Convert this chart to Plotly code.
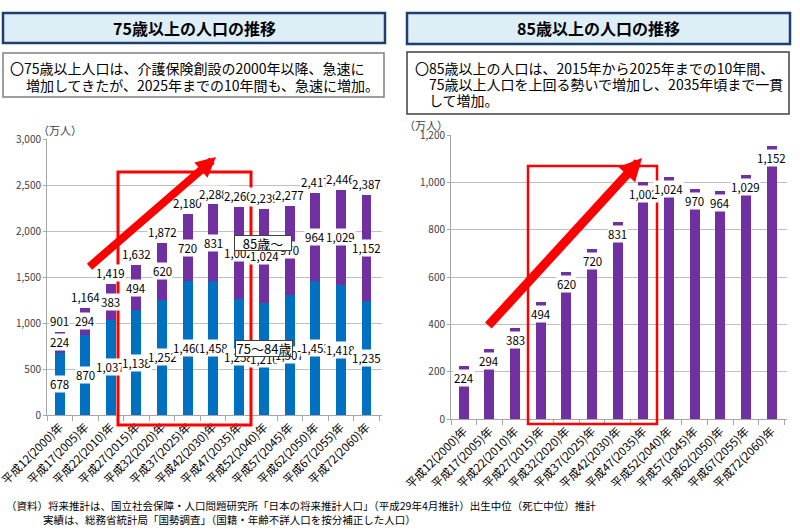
import plotly.graph_objects as go

categories = ["平成12(2000)年", "平成17(2005)年", "平成22(2010)年", "平成27(2015)年",
              "平成32(2020)年", "平成37(2025)年", "平成42(2030)年", "平成47(2035)年",
              "平成52(2040)年", "平成57(2045)年", "平成62(2050)年", "平成67(2055)年",
              "平成72(2060)年"]
age_75_84 = [678, 870, 1037, 1138, 1252, 1460, 1458, 1258, 1216, 1307, 1453, 1418, 1235]
age_85_plus = [224, 294, 383, 494, 620, 720, 831, 1002, 1024, 970, 964, 1029, 1152]
total_75_plus = [901, 1164, 1419, 1632, 1872, 2180, 2288, 2260, 2239, 2277, 2417, 2446, 2387]
left_ticks = [0, 500, 1000, 1500, 2000, 2500, 3000]
right_ticks = [0, 200, 400, 600, 800, 1000, 1200]

BLUE = "#0070C0"
PURPLE = "#7030A0"
FONT = "Noto Sans CJK JP"
W, H = 800, 530


def px(x):
    return x / W


def py(y):
    return 1 - y / H


fig = go.Figure()
fig.add_bar(x=categories, y=age_75_84, marker=dict(color=BLUE, line=dict(width=0)),
            xaxis="x", yaxis="y", name="75〜84歳", showlegend=False, hoverinfo="skip")
fig.add_bar(x=categories, y=age_85_plus, marker=dict(color=PURPLE, line=dict(width=0)),
            xaxis="x", yaxis="y", name="85歳〜", showlegend=False, hoverinfo="skip")
fig.add_bar(x=categories, y=age_85_plus, marker=dict(color=PURPLE, line=dict(width=0)),
            xaxis="x2", yaxis="y2", name="85歳〜", showlegend=False, hoverinfo="skip")

annotations = []
lab_font = dict(family=FONT, size=11.5, color="#000000")

# left chart segment labels and totals
for i, c in enumerate(categories):
    a, b = age_75_84[i], age_85_plus[i]
    annotations.append(dict(x=c, y=a / 2, xref="x", yref="y", text=f"{a:,}", showarrow=False,
                            bgcolor="white", borderpad=0, font=lab_font,
                            xanchor="center", yanchor="middle"))
    annotations.append(dict(x=c, y=a + b / 2, xref="x", yref="y", text=f"{b:,}", showarrow=False,
                            bgcolor="white", borderpad=0, font=lab_font,
                            xanchor="center", yanchor="middle"))
for i, c in enumerate(categories):
    t = total_75_plus[i]
    annotations.append(dict(x=c, y=t, xref="x", yref="y", text=f"{t:,}", showarrow=False,
                            bgcolor="white", borderpad=0, font=lab_font,
                            xanchor="center", yanchor="bottom", yshift=2))

# right chart labels (inside end)
for i, c in enumerate(categories):
    b = age_85_plus[i]
    annotations.append(dict(x=c, y=b, xref="x2", yref="y2", text=f"{b:,}", showarrow=False,
                            bgcolor="white", borderpad=0, font=lab_font,
                            xanchor="center", yanchor="top", yshift=-3))

# unit labels
annotations.append(dict(x=px(36), y=py(130), xref="paper", yref="paper", text="（万人）",
                        showarrow=False, xanchor="left", yanchor="middle",
                        font=dict(family=FONT, size=11, color="#404040")))
annotations.append(dict(x=px(402), y=py(125), xref="paper", yref="paper", text="（万人）",
                        showarrow=False, xanchor="left", yanchor="middle",
                        font=dict(family=FONT, size=11, color="#404040")))

# titles
annotations.append(dict(x=px(194), y=py(28), xref="paper", yref="paper",
                        text="<b>75歳以上の人口の推移</b>", showarrow=False,
                        xanchor="center", yanchor="middle",
                        font=dict(family=FONT, size=16, color="#000000")))
annotations.append(dict(x=px(598), y=py(28), xref="paper", yref="paper",
                        text="<b>85歳以上の人口の推移</b>", showarrow=False,
                        xanchor="center", yanchor="middle",
                        font=dict(family=FONT, size=16, color="#000000")))

desc_font = dict(family=FONT, size=14, color="#000000")
for (x, y, t) in [(8, 68, "〇75歳以上人口は、介護保険創設の2000年以降、急速に"),
                  (24, 85, "増加してきたが、2025年までの10年間も、急速に増加。"),
                  (413, 68, "〇85歳以上の人口は、2015年から2025年までの10年間、"),
                  (427, 84, "75歳以上人口を上回る勢いで増加し、2035年頃まで一貫"),
                  (427, 100, "して増加。")]:
    annotations.append(dict(x=px(x), y=py(y), xref="paper", yref="paper", text=t,
                            showarrow=False, xanchor="left", yanchor="middle", font=desc_font))

foot_font = dict(family=FONT, size=10.5, color="#000000")
annotations.append(dict(x=px(4), y=py(505), xref="paper", yref="paper",
                        text="（資料）将来推計は、国立社会保障・人口問題研究所「日本の将来推計人口」（平成29年4月推計）出生中位（死亡中位）推計",
                        showarrow=False, xanchor="left", yanchor="middle", font=foot_font))
annotations.append(dict(x=px(41), y=py(519), xref="paper", yref="paper",
                        text="実績は、総務省統計局「国勢調査」（国籍・年齢不詳人口を按分補正した人口）",
                        showarrow=False, xanchor="left", yanchor="middle", font=foot_font))

# arrows
annotations.append(dict(x=px(216), y=py(157), xref="paper", yref="paper", text="",
                        showarrow=True, ax=88 - 216, ay=268 - 157, arrowcolor="#FF0000",
                        arrowwidth=8, arrowhead=2, arrowsize=0.5))
annotations.append(dict(x=px(642), y=py(158), xref="paper", yref="paper", text="",
                        showarrow=True, ax=487 - 642, ay=327 - 158, arrowcolor="#FF0000",
                        arrowwidth=9, arrowhead=2, arrowsize=0.5))

# legend-like boxes
box_font = dict(family=FONT, size=13, color="#000000")
annotations.append(dict(x=px(263), y=py(243), xref="paper", yref="paper", text="85歳～",
                        showarrow=False, bgcolor="white", bordercolor="#404040", borderwidth=1,
                        borderpad=0, font=box_font, width=56, height=14,
                        xanchor="center", yanchor="middle"))
annotations.append(dict(x=px(264), y=py(348), xref="paper", yref="paper", text="75〜84歳",
                        showarrow=False, bgcolor="white", bordercolor="#404040", borderwidth=1,
                        borderpad=0, font=box_font, width=56, height=15,
                        xanchor="center", yanchor="middle"))

shapes = [
    # title boxes
    dict(type="rect", xref="paper", yref="paper", x0=px(3), x1=px(385), y0=py(13), y1=py(43),
         fillcolor="#DEEEF7", line=dict(color="#1F3F6E", width=2.5), layer="below"),
    dict(type="rect", xref="paper", yref="paper", x0=px(407), x1=px(790), y0=py(13), y1=py(44),
         fillcolor="#DEEEF7", line=dict(color="#1F3F6E", width=2.5), layer="below"),
    # description boxes
    dict(type="rect", xref="paper", yref="paper", x0=px(3), x1=px(384), y0=py(53), y1=py(97),
         fillcolor="white", line=dict(color="#7F7F7F", width=1.5), layer="below"),
    dict(type="rect", xref="paper", yref="paper", x0=px(407), x1=px(789), y0=py(52), y1=py(114),
         fillcolor="white", line=dict(color="#404040", width=1.5), layer="below"),
    # red highlight rectangles
    dict(type="rect", xref="paper", yref="paper", x0=px(118), x1=px(251), y0=py(172), y1=py(425),
         line=dict(color="#FF0000", width=3), layer="above"),
    dict(type="rect", xref="paper", yref="paper", x0=px(528), x1=px(657), y0=py(166), y1=py(424),
         line=dict(color="#FF0000", width=2.5), layer="above"),
]

axis_common = dict(type="category", tickangle=-45, ticks="outside", tickson="boundaries",
                   ticklen=5, tickcolor="#A6A6A6", showline=True, linecolor="#A6A6A6",
                   linewidth=1, showgrid=False,
                   tickfont=dict(family=FONT, size=11.5, color="#000000"))
yaxis_common = dict(showline=True, linecolor="#A6A6A6", linewidth=1, gridcolor="#BFBFBF",
                    gridwidth=1, zeroline=False, tickformat=",", ticks="outside", ticklen=3,
                    tickcolor="#A6A6A6",
                    tickfont=dict(family=FONT, size=10, color="#404040"))

fig.update_layout(
    width=W, height=H,
    margin=dict(l=0, r=0, t=0, b=0, autoexpand=False),
    paper_bgcolor="white", plot_bgcolor="white",
    barmode="stack", bargap=0.61,
    showlegend=False,
    xaxis=dict(domain=[px(47), px(382)], anchor="y", **axis_common),
    yaxis=dict(domain=[py(415), py(139)], anchor="x", range=[0, 3000],
               tickvals=left_ticks, **yaxis_common),
    xaxis2=dict(domain=[px(451), px(787)], anchor="y2", **axis_common),
    yaxis2=dict(domain=[py(419), py(135)], anchor="x2", range=[0, 1200],
                tickvals=right_ticks, **yaxis_common),
    annotations=annotations,
    shapes=shapes,
    font=dict(family=FONT),
)

fig.write_html("out.html", config={"displayModeBar": False},
               post_script="document.body.style.margin='0';document.body.style.overflow='hidden';")
